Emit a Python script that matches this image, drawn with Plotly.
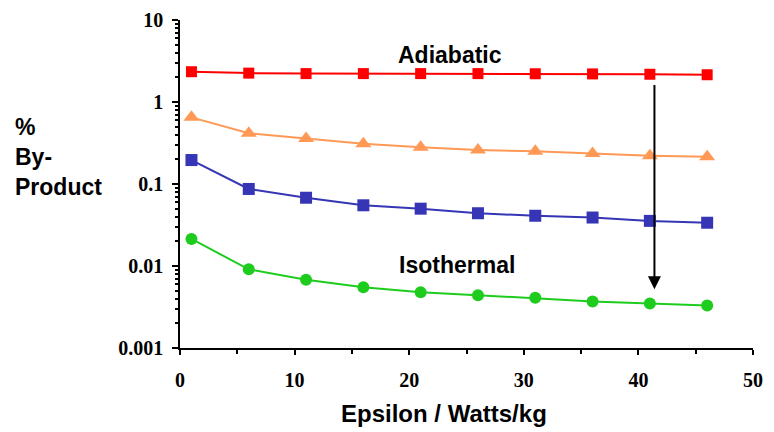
import math
import plotly.graph_objects as go

epsilon = [1, 6, 11, 16, 21, 26, 31, 36, 41, 46]
adiabatic = [2.34, 2.25, 2.22, 2.22, 2.22, 2.22, 2.21, 2.2, 2.18, 2.15]
series_orange = [0.65, 0.415, 0.36, 0.31, 0.28, 0.26, 0.25, 0.235, 0.221, 0.215]
series_blue = [0.196, 0.087, 0.068, 0.055, 0.050, 0.044, 0.041, 0.039, 0.0355, 0.0337]
isothermal = [0.0214, 0.0091, 0.0068, 0.0055, 0.0048, 0.0044, 0.0041, 0.0037, 0.0035, 0.0033]

x_ticks = [0, 10, 20, 30, 40, 50]
x_minor = [5, 15, 25, 35, 45]
y_ticks = [0.001, 0.01, 0.1, 1, 10]
y_tick_labels = ["0.001", "0.01", "0.1", "1", "10"]
y_minor = [m * 10 ** e for e in range(-3, 1) for m in range(2, 10)]

arrow_x = 41.4
arrow_top = 1.68
arrow_bottom = 0.0052

fig = go.Figure()
fig.add_trace(go.Scatter(x=epsilon, y=adiabatic, mode="lines+markers",
                         line=dict(color="#FF0000", width=2),
                         marker=dict(symbol="square", size=11, color="#FF0000")))
fig.add_trace(go.Scatter(x=epsilon, y=series_orange, mode="lines+markers",
                         line=dict(color="#FF9955", width=2),
                         marker=dict(symbol="triangle-up", size=14, color="#FF9955")))
fig.add_trace(go.Scatter(x=epsilon, y=series_blue, mode="lines+markers",
                         line=dict(color="#3535B5", width=2),
                         marker=dict(symbol="square", size=12, color="#3535B5")))
fig.add_trace(go.Scatter(x=epsilon, y=isothermal, mode="lines+markers",
                         line=dict(color="#1ECC1E", width=2),
                         marker=dict(symbol="circle", size=12, color="#1ECC1E")))

fig.add_annotation(x=arrow_x, y=math.log10(arrow_bottom), ax=arrow_x, ay=math.log10(arrow_top),
                   xref="x", yref="y", axref="x", ayref="y", text="",
                   showarrow=True, arrowhead=2, arrowsize=1.3, arrowwidth=2, arrowcolor="black")

lbl_font = dict(family="Liberation Sans", size=23, color="black", weight="bold")
fig.add_annotation(x=23.56, y=math.log10(3.74), xref="x", yref="y", text="Adiabatic",
                   showarrow=False, font=lbl_font)
fig.add_annotation(x=24.17, y=math.log10(0.0103), xref="x", yref="y", text="Isothermal",
                   showarrow=False, font=lbl_font)
fig.add_annotation(x=-0.2914, y=0.582, xref="paper", yref="paper", xanchor="left",
                   text="%<br>By-<br>Product", align="left", showarrow=False,
                   font=dict(family="Liberation Sans", size=23, color="black", weight="bold"))
fig.add_annotation(x=0.46, y=-0.2, xref="paper", yref="paper", xanchor="center", yanchor="middle",
                   text="Epsilon / Watts/kg", showarrow=False,
                   font=dict(family="Liberation Sans", size=24, color="black", weight="bold"))

tick_font = dict(family="Liberation Serif", size=20, color="black", weight="bold")
fig.update_layout(
    width=766, height=424,
    margin=dict(l=172, r=21, t=12, b=84),
    paper_bgcolor="white", plot_bgcolor="white",
    showlegend=False,
    xaxis=dict(range=[0, 50], tickvals=x_ticks, ticks="outside", ticklen=5, tickwidth=1.5,
               tickcolor="black", showline=True, linecolor="black", linewidth=1.5,
               showgrid=False, zeroline=False, automargin=False,
               tickfont=tick_font, ticklabelstandoff=8,
               minor=dict(tickvals=x_minor, ticks="outside", ticklen=4, tickcolor="black", showgrid=False)),
    yaxis=dict(type="log", range=[-3, 1], tickvals=y_ticks, ticktext=y_tick_labels,
               ticks="outside", ticklen=6, tickwidth=1.5, tickcolor="black",
               showline=True, linecolor="black", linewidth=1.5,
               showgrid=False, zeroline=False, automargin=False,
               tickfont=tick_font, ticklabelstandoff=5,
               minor=dict(tickvals=y_minor, ticks="outside", ticklen=3, tickcolor="black", showgrid=False)),
    xaxis2=dict(overlaying="x", side="bottom", anchor="y", range=[0, 50], tickvals=x_ticks,
                ticks="inside", ticklen=5, tickwidth=1.5, tickcolor="black",
                showticklabels=False, showline=False, showgrid=False, zeroline=False,
                minor=dict(tickvals=x_minor, ticks="inside", ticklen=3, tickcolor="black", showgrid=False)),
    yaxis2=dict(overlaying="y", side="left", anchor="x", type="log", range=[-3, 1], tickvals=y_ticks,
                ticks="inside", ticklen=5, tickwidth=1.5, tickcolor="black",
                showticklabels=False, showline=False, showgrid=False, zeroline=False,
                minor=dict(tickvals=y_minor, ticks="inside", ticklen=3, tickcolor="black", showgrid=False)),
)

fig.write_html("out.html")
